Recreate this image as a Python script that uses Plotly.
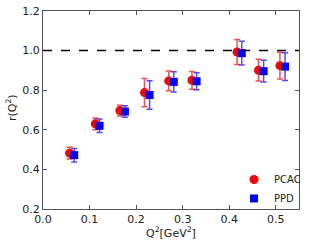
import plotly.graph_objects as go

q2_pcac = [0.057, 0.1125, 0.165, 0.218, 0.270, 0.320, 0.417, 0.463, 0.509]
r_pcac = [0.482, 0.630, 0.697, 0.788, 0.847, 0.850, 0.993, 0.901, 0.924]
err_pcac = [0.030, 0.030, 0.027, 0.071, 0.050, 0.045, 0.063, 0.055, 0.068]

q2_ppd = [0.067, 0.1215, 0.176, 0.229, 0.281, 0.330, 0.427, 0.474, 0.520]
r_ppd = [0.472, 0.620, 0.692, 0.776, 0.842, 0.845, 0.987, 0.896, 0.919]
err_ppd = [0.034, 0.034, 0.029, 0.072, 0.051, 0.043, 0.060, 0.055, 0.070]

x_ticks = [0.0, 0.1, 0.2, 0.3, 0.4, 0.5]
y_ticks = [0.2, 0.4, 0.6, 0.8, 1.0, 1.2]

FONT = dict(family="DejaVu Sans", size=11, color="#222222")

fig = go.Figure()
fig.add_trace(go.Scatter(
    x=q2_pcac, y=r_pcac, mode="markers", name="PCAC",
    marker=dict(symbol="circle", size=9, color="#ff0000"),
    error_y=dict(type="data", array=err_pcac, color="rgba(255,0,0,0.7)", thickness=1.5, width=3),
))
fig.add_trace(go.Scatter(
    x=q2_ppd, y=r_ppd, mode="markers", name="PPD",
    marker=dict(symbol="square", size=8, color="#0000ff"),
    error_y=dict(type="data", array=err_ppd, color="rgba(0,0,255,0.7)", thickness=1.5, width=3),
))
fig.add_shape(type="line", xref="paper", yref="y", x0=0, x1=1, y0=1.0, y1=1.0,
              line=dict(color="black", width=1.5, dash="dash"))

axis_common = dict(showgrid=False, zeroline=False, showline=True, mirror="ticks",
                   linecolor="#555555", linewidth=1.2, ticks="inside", ticklen=4,
                   tickcolor="#555555", automargin=False, tickfont=FONT)
fig.update_xaxes(range=[0, 0.55], tickvals=x_ticks, ticktext=[f"{v:.1f}" for v in x_ticks], **axis_common)
fig.update_yaxes(range=[0.2, 1.2], tickvals=y_ticks, ticktext=[f"{v:.1f}" for v in y_ticks], **axis_common)

fig.add_annotation(text="Q<sup>2</sup>[GeV<sup>2</sup>]", xref="paper", yref="paper",
                   x=0.5, y=-0.118, xanchor="center", yanchor="middle", showarrow=False, font=FONT)
fig.add_annotation(text="r(Q<sup>2</sup>)", xref="paper", yref="paper", textangle=-90,
                   x=-0.125, y=0.51, xanchor="center", yanchor="middle", showarrow=False, font=FONT)

fig.update_layout(
    width=312, height=245,
    margin=dict(l=43, r=6, t=11, b=36),
    plot_bgcolor="white", paper_bgcolor="white",
    legend=dict(x=0.746, y=-0.02, xanchor="left", yanchor="bottom", bgcolor="rgba(0,0,0,0)",
                font=dict(family="DejaVu Sans", size=10, color="#222222"),
                itemwidth=30, tracegroupgap=0),
    showlegend=True,
)
fig.write_html("out.html", config={"displayModeBar": False},
               post_script="document.body.style.margin='0';")
